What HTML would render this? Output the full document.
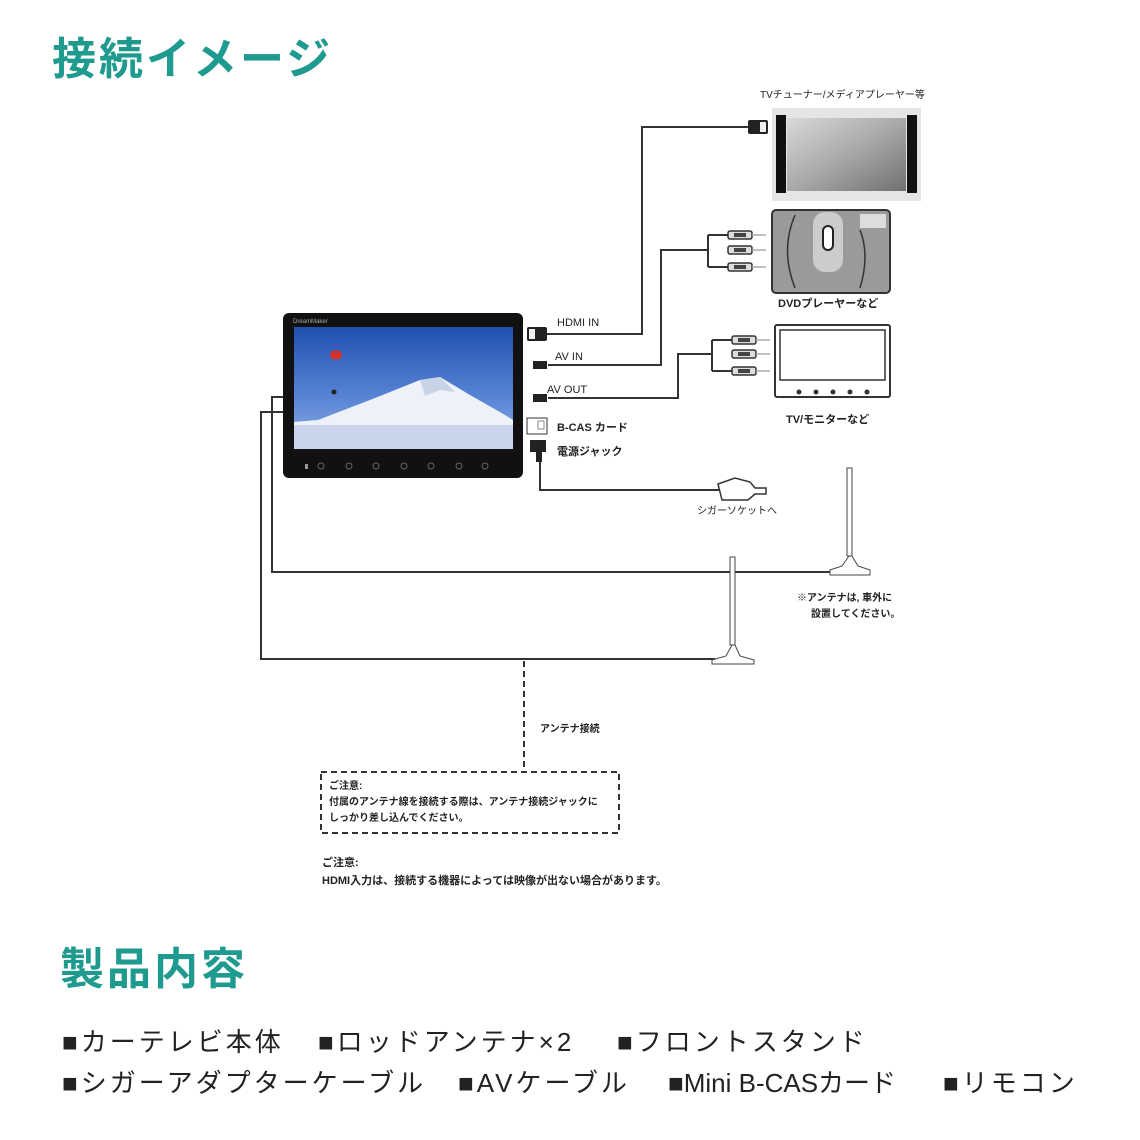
<!DOCTYPE html>
<html><head><meta charset="utf-8"><style>
html,body{margin:0;padding:0;background:#fff;width:1140px;height:1140px;overflow:hidden}
svg{display:block}
text{font-family:"Liberation Sans","Noto Sans CJK JP",sans-serif}
</style></head><body>
<svg width="1140" height="1140" viewBox="0 0 1140 1140" xmlns="http://www.w3.org/2000/svg">
<defs>
<linearGradient id="sky" x1="0" y1="0" x2="0" y2="1"><stop offset="0" stop-color="#1f4fb0"/><stop offset="0.6" stop-color="#5b86d6"/><stop offset="1" stop-color="#8fb0e0"/></linearGradient>
<linearGradient id="tvs" x1="0" y1="0" x2="1" y2="1"><stop offset="0" stop-color="#d9d9d9"/><stop offset="0.5" stop-color="#a9a9a9"/><stop offset="1" stop-color="#707070"/></linearGradient>
</defs>
<text x="52" y="74" font-size="44" font-weight="bold" fill="#1e9a8e" letter-spacing="3">接続イメージ</text>

<g fill="none" stroke="#333" stroke-width="2">
<polyline points="547,334 642,334 642,127 750,127"/>
<polyline points="548,365 661,365 661,250 708,250"/>
<polyline points="548,398 678,398 678,354 712,354"/>
<polyline points="540,460 540,490 720,490"/>
<polyline points="283,397 272,397 272,572 840,572"/>
<polyline points="283,412 261,412 261,659 715,659"/>
</g>
<g stroke="#333" stroke-width="2"><line x1="708" y1="235" x2="745" y2="235"/><line x1="708" y1="267" x2="745" y2="267"/><line x1="708" y1="235" x2="708" y2="267"/><line x1="712" y1="340" x2="745" y2="340"/><line x1="712" y1="371" x2="745" y2="371"/><line x1="712" y1="340" x2="712" y2="371"/></g>
<g>
<g id="rca"><rect x="728" y="231" width="24" height="8" rx="2" fill="#ddd" stroke="#333" stroke-width="1.5"/><rect x="734" y="233" width="12" height="4" fill="#444"/><line x1="752" y1="235" x2="766" y2="235" stroke="#aaa" stroke-width="1.5"/></g>
<use href="#rca" y="15"/><use href="#rca" y="32"/>
<use href="#rca" x="4" y="105"/><use href="#rca" x="4" y="119"/><use href="#rca" x="4" y="136"/>
</g>
<rect x="748" y="120" width="20" height="14" rx="2" fill="#222"/><rect x="760" y="122" width="6" height="10" fill="#eee"/>
<rect x="527" y="327" width="20" height="14" rx="2" fill="#222"/><rect x="529" y="329" width="6" height="10" fill="#eee"/>
<rect x="533" y="361" width="14" height="8" fill="#222"/><rect x="533" y="394" width="14" height="8" fill="#222"/>
<rect x="530" y="440" width="16" height="12" fill="#222"/><rect x="536" y="450" width="6" height="12" fill="#222"/>
<rect x="527" y="418" width="20" height="16" fill="#fff" stroke="#333"/><rect x="538" y="421" width="6" height="8" fill="none" stroke="#888"/>

<rect x="283" y="313" width="240" height="165" rx="6" fill="#111"/>
<text x="293" y="323" font-size="6" fill="#aaa">DreamMaker</text>
<rect x="294" y="327" width="219" height="122" fill="url(#sky)"/>
<polygon points="318,420 370,400 420,380 440,377 470,395 505,415 513,420 513,449 294,449 294,422" fill="#eef2f8"/>
<polygon points="420,380 440,377 455,392 440,390 425,396" fill="#c9d3e6"/>
<rect x="294" y="425" width="219" height="24" fill="#b8c9e6" opacity="0.7"/>
<ellipse cx="336" cy="355" rx="6" ry="5" fill="#c33"/><circle cx="334" cy="392" r="2.5" fill="#222"/>
<g fill="none" stroke="#666" stroke-width="1"><circle cx="321" cy="466" r="3"/><circle cx="349" cy="466" r="3"/><circle cx="376" cy="466" r="3"/><circle cx="404" cy="466" r="3"/><circle cx="431" cy="466" r="3"/><circle cx="459" cy="466" r="3"/><circle cx="485" cy="466" r="3"/></g>
<rect x="305" y="464" width="3" height="5" fill="#999"/>

<g font-size="11" fill="#222">
<text x="557" y="326">HDMI IN</text>
<text x="555" y="360">AV IN</text>
<text x="547" y="393">AV OUT</text>
<text x="557" y="431" font-weight="bold">B-CAS カード</text>
<text x="557" y="455" font-weight="bold">電源ジャック</text>
<text x="760" y="98" font-size="10">TVチューナー/メディアプレーヤー等</text>
<text x="778" y="307" font-weight="bold">DVDプレーヤーなど</text>
<text x="786" y="423" font-weight="bold">TV/モニターなど</text>
<text x="697" y="514" font-size="10">シガーソケットへ</text>
<text x="797" y="601" font-size="10" font-weight="bold">※アンテナは, 車外に</text>
<text x="811" y="617" font-size="10" font-weight="bold">設置してください。</text>
<text x="540" y="732" font-size="10" font-weight="bold">アンテナ接続</text>
</g>

<rect x="772" y="108" width="149" height="93" fill="#e5e5e5"/>
<rect x="776" y="115" width="10" height="78" fill="#111"/><rect x="907" y="115" width="10" height="78" fill="#111"/>
<rect x="787" y="118" width="119" height="73" fill="url(#tvs)"/>
<rect x="772" y="210" width="118" height="83" rx="4" fill="#9a9a9a" stroke="#333" stroke-width="2"/>
<rect x="813" y="212" width="30" height="60" rx="12" fill="#ccc"/>
<rect x="823" y="226" width="10" height="24" rx="5" fill="#fff" stroke="#222" stroke-width="2"/>
<rect x="860" y="214" width="26" height="14" fill="#ddd"/>
<path d="M795 215 Q780 250 795 288" fill="none" stroke="#333" stroke-width="1.5"/>
<path d="M860 230 Q870 255 860 288" fill="none" stroke="#333" stroke-width="1.5"/>
<rect x="775" y="325" width="115" height="72" rx="2" fill="#fff" stroke="#333" stroke-width="2"/>
<rect x="780" y="330" width="105" height="50" fill="#fff" stroke="#333" stroke-width="1.5"/>
<g fill="#333"><circle cx="799" cy="392" r="2.5"/><circle cx="816" cy="392" r="2.5"/><circle cx="833" cy="392" r="2.5"/><circle cx="850" cy="392" r="2.5"/><circle cx="867" cy="392" r="2.5"/></g>
<path d="M718 484 L735 478 L750 482 L755 488 L766 488 L766 494 L755 494 L748 500 L722 500 Z" fill="#fff" stroke="#333" stroke-width="1.5"/>
<rect x="847" y="468" width="5" height="88" fill="#fff" stroke="#444"/>
<path d="M849 556 L852 556 L858 566 L870 570 L870 575 L830 575 L830 570 L842 566 Z" fill="#fff" stroke="#444"/>
<rect x="730" y="557" width="5" height="88" fill="#fff" stroke="#444"/>
<path d="M732 645 L735 645 L740 656 L754 660 L754 664 L712 664 L712 660 L726 656 Z" fill="#fff" stroke="#444"/>

<g fill="none" stroke="#333" stroke-width="2" stroke-dasharray="6,4">
<line x1="524" y1="661" x2="524" y2="772"/>
<rect x="321" y="772" width="298" height="61"/>
</g>
<g font-size="10" fill="#222" font-weight="bold">
<text x="329" y="789">ご注意:</text>
<text x="329" y="805">付属のアンテナ線を接続する際は、アンテナ接続ジャックに</text>
<text x="329" y="821">しっかり差し込んでください。</text>
<text x="322" y="866" font-size="11">ご注意:</text>
<text x="322" y="884" font-size="11">HDMI入力は、接続する機器によっては映像が出ない場合があります。</text>
</g>

<text x="60" y="984" font-size="44" font-weight="bold" fill="#1e9a8e" letter-spacing="3">製品内容</text>
<g font-size="26" fill="#222" letter-spacing="3">
<text x="62" y="1051">■カーテレビ本体</text>
<text x="318" y="1051">■ロッドアンテナ×2</text>
<text x="617" y="1051">■フロントスタンド</text>
<text x="62" y="1092">■シガーアダプターケーブル</text>
<text x="458" y="1092">■AVケーブル</text>
<text x="668" y="1092" letter-spacing="0">■Mini B-CASカード</text>
<text x="943" y="1092">■リモコン</text>
</g>
</svg>
</body></html>
